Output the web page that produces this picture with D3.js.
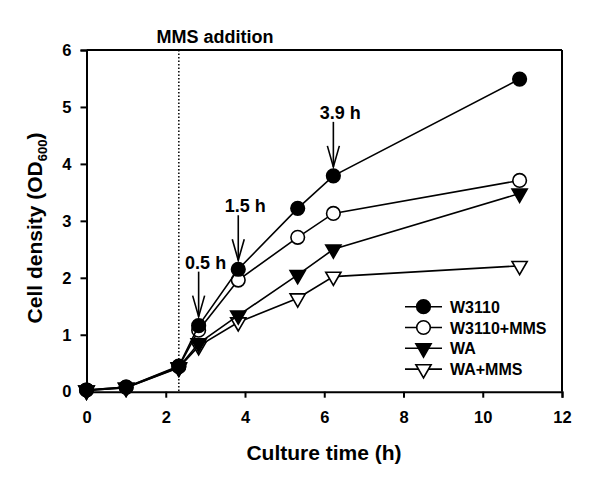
<!DOCTYPE html>
<html><head><meta charset="utf-8">
<script src="https://cdn.jsdelivr.net/npm/d3@7"></script>
<style>body{margin:0;background:#fff}svg text{font-family:"Liberation Sans",Arial,sans-serif;font-weight:bold}</style>
</head><body><svg id="c" width="600" height="485"></svg>
<script>
const times = [0, 1, 2.33, 2.83, 3.83, 5.33, 6.23, 10.93];
const seriesNames = ["W3110", "W3110+MMS", "WA", "WA+MMS"];
const w3110 = [0.03, 0.08, 0.45, 1.16, 2.15, 3.22, 3.79, 5.49];
const w3110mms = [0.03, 0.08, 0.44, 1.08, 1.96, 2.71, 3.13, 3.71];
const wa = [0.02, 0.07, 0.43, 0.85, 1.34, 2.05, 2.50, 3.48];
const wamms = [0.02, 0.07, 0.42, 0.80, 1.22, 1.64, 2.02, 2.21];
const xTicks = [0, 2, 4, 6, 8, 10, 12];
const yTicks = [0, 1, 2, 3, 4, 5, 6];
const mmsTime = 2.33;
const arrows = [{t: 2.83, v: 1.16, label: "0.5 h"}, {t: 3.83, v: 2.15, label: "1.5 h"}, {t: 6.23, v: 3.79, label: "3.9 h"}];

const svg = d3.select("#c");
const L = 86.5, R = 562, T = 50, B = 391.7;
const x = d3.scaleLinear().domain([0, 12]).range([L, R]);
const y = d3.scaleLinear().domain([0, 6]).range([B, T]);

// frame
svg.append("line").attr("x1", L).attr("x2", R).attr("y1", T).attr("y2", T).attr("stroke", "#000").attr("stroke-width", 2);
svg.append("line").attr("x1", R).attr("x2", R).attr("y1", T).attr("y2", B).attr("stroke", "#000").attr("stroke-width", 2);

const xAxis = svg.append("g").attr("transform", `translate(0,${B})`)
  .call(d3.axisBottom(x).tickValues(xTicks).tickSize(6).tickPadding(14).tickFormat(d3.format("d")));
const yAxis = svg.append("g").attr("transform", `translate(${L},0)`)
  .call(d3.axisLeft(y).tickValues(yTicks).tickSize(6).tickPadding(9).tickFormat(d3.format("d")));
[xAxis, yAxis].forEach(g => {
  g.select(".domain").attr("stroke-width", 2).attr("stroke", "#000");
  g.selectAll(".tick line").attr("stroke-width", 2).attr("stroke", "#000");
  g.selectAll(".tick text").attr("font-size", 16.5).attr("font-family", "Liberation Sans, Arial, sans-serif").attr("font-weight", "bold").attr("fill", "#000");
});

// dotted line
svg.append("line").attr("x1", x(mmsTime)).attr("x2", x(mmsTime)).attr("y1", T).attr("y2", B)
  .attr("stroke", "#000").attr("stroke-width", 1.5).attr("stroke-dasharray", "1.5,2");
svg.append("text").attr("x", 215).attr("y", 43).attr("text-anchor", "middle").attr("font-size", 18).text("MMS addition");

const series = [
  {name: seriesNames[0], vals: w3110, type: "circle", fill: "#000"},
  {name: seriesNames[1], vals: w3110mms, type: "circle", fill: "#fff"},
  {name: seriesNames[2], vals: wa, type: "tri", fill: "#000"},
  {name: seriesNames[3], vals: wamms, type: "tri", fill: "#fff"}
];
const line = d3.line().x((d, i) => x(times[i])).y(d => y(d));
const triPath = d3.symbol().type(d3.symbolTriangle).size(100)();

function marker(g, type, fill, cx, cy) {
  if (type === "circle") {
    g.append("circle").attr("cx", cx).attr("cy", cy).attr("r", 6.8).attr("fill", fill).attr("stroke", "#000").attr("stroke-width", 1.6);
  } else {
    g.append("path").attr("d", triPath).attr("transform", `translate(${cx},${cy}) rotate(180)`)
      .attr("fill", fill).attr("stroke", "#000").attr("stroke-width", 1.6);
  }
}

// draw in reverse order so W3110 on top
[...series].reverse().forEach(s => {
  const g = svg.append("g");
  g.append("path").attr("d", line(s.vals)).attr("fill", "none").attr("stroke", "#000").attr("stroke-width", 1.6);
  s.vals.forEach((v, i) => marker(g, s.type, s.fill, x(times[i]), y(v)));
});

// arrows
arrows.forEach(a => {
  const ax = x(a.t), tip = y(a.v) - 9, start = tip - 45;
  svg.append("line").attr("x1", ax).attr("x2", ax).attr("y1", start).attr("y2", tip).attr("stroke", "#000").attr("stroke-width", 1.6);
  svg.append("path").attr("d", `M${ax - 6},${tip - 21} L${ax},${tip} L${ax + 6},${tip - 21}`)
    .attr("fill", "none").attr("stroke", "#000").attr("stroke-width", 1.6);
  svg.append("text").attr("x", ax + 7).attr("y", start - 3).attr("text-anchor", "middle").attr("font-size", 18).text(a.label);
});

// legend
const legX = 405, legY0 = 306.7, legDy = 20.8;
series.forEach((s, i) => {
  const ly = legY0 + i * legDy;
  const g = svg.append("g");
  g.append("line").attr("x1", legX).attr("x2", legX + 37).attr("y1", ly).attr("y2", ly).attr("stroke", "#000").attr("stroke-width", 1.6);
  marker(g, s.type, s.fill, legX + 18.5, ly);
  g.append("text").attr("x", legX + 45).attr("y", ly + 6).attr("font-size", 16).text(s.name);
});

// axis titles
svg.append("text").attr("x", 324).attr("y", 460).attr("text-anchor", "middle").attr("font-size", 21).text("Culture time (h)");
const yt = svg.append("text").attr("transform", `translate(42,228) rotate(-90)`).attr("text-anchor", "middle").attr("font-size", 21);
yt.append("tspan").text("Cell density (OD");
yt.append("tspan").attr("font-size", 13).attr("dy", 5).text("600");
yt.append("tspan").attr("dy", -5).text(")");
</script></body></html>
